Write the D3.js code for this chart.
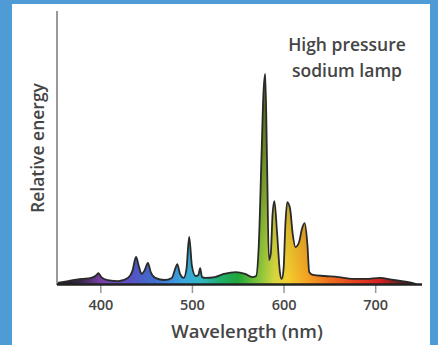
<!DOCTYPE html>
<html>
<head>
<meta charset="utf-8">
<script src="https://cdn.jsdelivr.net/npm/d3@7"></script>
<style>
  body { margin: 0; background: #4f9bd6; }
  svg { display: block; }
  text { font-family: "Open Sans", "DejaVu Sans", sans-serif; fill: #454545; font-weight: 600; }
</style>
</head>
<body>
<div id="chart"></div>
<script>
// spectrum of a high pressure sodium lamp
const wavelengths = [353, 365, 380, 390, 396, 398, 401, 408, 420, 430, 435, 439, 442, 445, 448, 452, 455, 460,
  470, 478, 482, 484, 487, 491, 494, 497, 500, 504, 507, 509, 511, 515, 525, 535, 548, 558, 566, 570,
  573, 576, 578, 580, 582, 584, 586, 588, 590, 593, 596, 598, 600, 602, 604, 607, 610, 613, 617, 620,
  623, 626, 628, 632, 645, 660, 675, 690, 705, 720, 735, 745];
const energy = [0.5, 1.4, 2.4, 2.9, 4.3, 5.2, 3.3, 1.9, 1.4, 2.9, 6.2, 12.9, 8.6, 4.8, 6.2, 10, 5.7, 2.9,
  1.9, 2.9, 7.6, 9.5, 4.8, 2.9, 7.1, 22.4, 8.6, 3.8, 4.3, 7.6, 3.3, 2.9, 3.3, 4.8, 5.7, 4.8, 3.3, 3.8,
  19, 61.9, 90.5, 100, 57.1, 11.4, 14.3, 33.3, 39.5, 23.8, 5.7, 2.4, 7.1, 28.6, 39, 36.2, 23.8, 17.6, 20, 26.2,
  29, 19, 5.7, 4.3, 3.8, 3.3, 2.4, 2.4, 2.9, 1.9, 1, 0];
const xTicks = [400, 500, 600, 700];

// spectral colours along the wavelength axis
const spectrumNm = [350, 380, 400, 430, 460, 490, 510, 530, 550, 575, 590, 605, 625, 650, 680, 705, 725, 748];
const spectrumCol = ['#111111', '#3b2a4e', '#7b3fa8', '#5b4fc2', '#3f70d2', '#3aa8e2', '#32b8c4', '#20b070',
  '#1fa83a', '#8cc83a', '#d8d840', '#f5cf30', '#f5a623', '#f07020', '#e84020', '#d82020', '#702020', '#111111'];

const W = 438, H = 345;
const svg = d3.select('#chart').append('svg')
  .attr('width', W)
  .attr('height', H);

svg.append('rect').attr('width', W).attr('height', H).attr('fill', '#4f9bd6');
svg.append('rect').attr('x', 12).attr('y', 4).attr('width', 418).attr('height', H - 4).attr('fill', '#fff');

const x = d3.scaleLinear().domain([350, 750]).range([54.5, 421]);
const y = d3.scaleLinear().domain([0, 130]).range([284, 11]);

const data = wavelengths.map((w, i) => ({ w: w, e: energy[i] }));

const defs = svg.append('defs');
const hg = defs.append('linearGradient')
  .attr('id', 'spectrum')
  .attr('gradientUnits', 'userSpaceOnUse')
  .attr('x1', x(350)).attr('x2', x(750))
  .attr('y1', 0).attr('y2', 0);
spectrumNm.forEach((nm, i) => {
  hg.append('stop')
    .attr('offset', (x(nm) - x(350)) / (x(750) - x(350)))
    .attr('stop-color', spectrumCol[i]);
});

const vg = defs.append('linearGradient')
  .attr('id', 'shade')
  .attr('gradientUnits', 'userSpaceOnUse')
  .attr('x1', 0).attr('x2', 0)
  .attr('y1', y(0)).attr('y2', y(100));
vg.append('stop').attr('offset', 0).attr('stop-color', '#000').attr('stop-opacity', 0);
vg.append('stop').attr('offset', 0.2).attr('stop-color', '#000').attr('stop-opacity', 0.08);
vg.append('stop').attr('offset', 1).attr('stop-color', '#000').attr('stop-opacity', 0.55);

const area = d3.area()
  .x(d => x(d.w))
  .y0(y(0))
  .y1(d => y(d.e))
  .curve(d3.curveMonotoneX);

const line = d3.line()
  .x(d => x(d.w))
  .y(d => y(d.e))
  .curve(d3.curveMonotoneX);

svg.append('path').datum(data).attr('d', area).attr('fill', 'url(#spectrum)');
svg.append('path').datum(data).attr('d', area).attr('fill', 'url(#shade)');
svg.append('path').datum(data).attr('d', line)
  .attr('fill', 'none')
  .attr('stroke', '#2a2a2a')
  .attr('stroke-width', 1.8);

// y axis line
svg.append('line')
  .attr('x1', 57).attr('x2', 57)
  .attr('y1', 11).attr('y2', 285)
  .attr('stroke', '#999').attr('stroke-width', 2);

// x axis
const xAxis = svg.append('g')
  .attr('transform', `translate(0,${y(0) + 1})`)
  .call(d3.axisBottom(x).tickValues(xTicks).tickSize(8).tickPadding(7).tickFormat(d3.format('d')));
xAxis.select('.domain').remove();
xAxis.selectAll('.tick line').attr('stroke', '#999').attr('stroke-width', 1.5);
xAxis.selectAll('.tick text')
  .style('font-family', '"Open Sans", sans-serif')
  .style('font-size', '14.5px')
  .style('font-weight', 600)
  .attr('fill', '#454545');

svg.append('line')
  .attr('x1', 57).attr('x2', 422)
  .attr('y1', y(0) + 0.5).attr('y2', y(0) + 0.5)
  .attr('stroke', '#222').attr('stroke-width', 2.5);

svg.append('text')
  .attr('x', 247).attr('y', 338)
  .attr('text-anchor', 'middle')
  .style('font-size', '18.5px')
  .text('Wavelength (nm)');

svg.append('text')
  .attr('transform', 'translate(44,148) rotate(-90)')
  .attr('text-anchor', 'middle')
  .style('font-size', '17.5px')
  .text('Relative energy');

svg.append('text')
  .attr('x', 347).attr('y', 51)
  .attr('text-anchor', 'middle')
  .style('font-size', '17.5px')
  .text('High pressure');
svg.append('text')
  .attr('x', 347).attr('y', 77)
  .attr('text-anchor', 'middle')
  .style('font-size', '17.5px')
  .text('sodium lamp');
</script>
</body>
</html>
